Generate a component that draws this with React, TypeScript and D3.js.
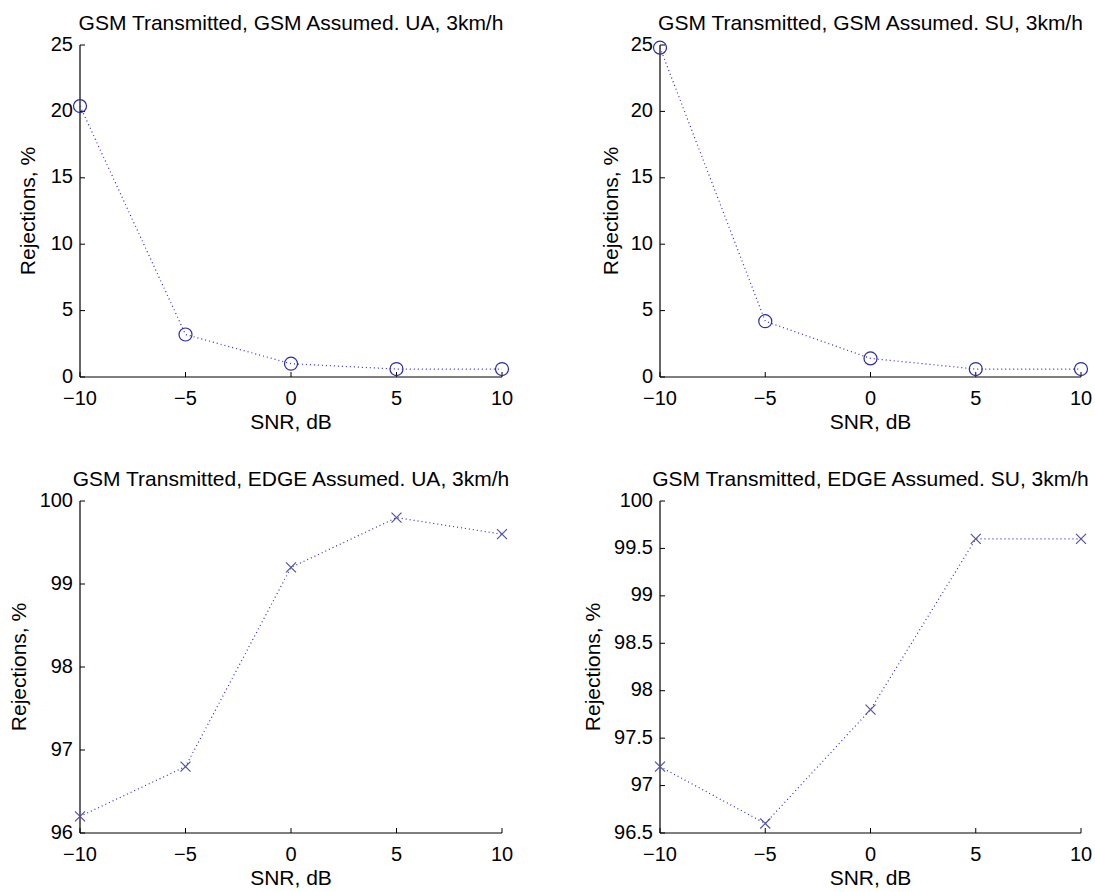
import React from "react";
import * as d3 from "d3";

const snr = [-10, -5, 0, 5, 10];
const xTicks = [-10, -5, 0, 5, 10];

const gsmUA = [20.4, 3.2, 1.0, 0.6, 0.6];
const gsmSU = [24.8, 4.2, 1.4, 0.6, 0.6];
const edgeUA = [96.2, 96.8, 99.2, 99.8, 99.6];
const edgeSU = [97.2, 96.6, 97.8, 99.6, 99.6];

const yTicksGsm = [0, 5, 10, 15, 20, 25];
const yTicksEdgeUA = [96, 97, 98, 99, 100];
const yTicksEdgeSU = [96.5, 97, 97.5, 98, 98.5, 99, 99.5, 100];

const titles = [
  "GSM Transmitted, GSM Assumed. UA, 3km/h",
  "GSM Transmitted, GSM Assumed. SU, 3km/h",
  "GSM Transmitted, EDGE Assumed. UA, 3km/h",
  "GSM Transmitted, EDGE Assumed. SU, 3km/h",
];
const xLabel = "SNR, dB";
const yLabel = "Rejections, %";

const FONT = "'Liberation Sans', Arial, Helvetica, sans-serif";
const LINE_COLOR = "#2b2bd0";
const CIRCLE_COLOR = "#2a2aa8";
const CROSS_COLOR = "#5050a8";

type PanelProps = {
  title: string;
  values: number[];
  yDomain: [number, number];
  yTicks: number[];
  marker: "o" | "x";
  left: number;
  right: number;
  top: number;
  bottom: number;
  yLabelOffset: number;
};

const fmt = (v: number) => (v < 0 ? "\u2212" + Math.abs(v) : String(v));

function Panel(p: PanelProps) {
  const x = d3.scaleLinear().domain([-10, 10]).range([p.left, p.right]);
  const y = d3.scaleLinear().domain(p.yDomain).range([p.bottom, p.top]);
  const pts = snr.map((s, i) => [x(s), y(p.values[i])] as [number, number]);
  const line = d3.line()(pts) || "";
  const cx = (p.left + p.right) / 2;
  const cy = (p.top + p.bottom) / 2;
  return (
    <g fontFamily={FONT}>
      <text x={cx} y={p.top - 15} textAnchor="middle" fontSize={21} fill="#000">
        {p.title}
      </text>
      <line x1={p.left} x2={p.left} y1={p.top} y2={p.bottom} stroke="#000" strokeWidth={1.2} />
      <line x1={p.left} x2={p.right} y1={p.bottom} y2={p.bottom} stroke="#000" strokeWidth={1.2} />
      {p.yTicks.map((t) => (
        <g key={"y" + t}>
          <line x1={p.left} x2={p.left + 5} y1={y(t)} y2={y(t)} stroke="#000" strokeWidth={1} />
          <text x={p.left - 7} y={y(t)} dy="0.28em" textAnchor="end" fontSize={20} fill="#000">
            {String(t)}
          </text>
        </g>
      ))}
      {xTicks.map((t) => (
        <g key={"x" + t}>
          <line x1={x(t)} x2={x(t)} y1={p.bottom} y2={p.bottom - 5} stroke="#000" strokeWidth={1} />
          <text x={x(t)} y={p.bottom + 21} dy="0.35em" textAnchor="middle" fontSize={20} fill="#000">
            {fmt(t)}
          </text>
        </g>
      ))}
      <text x={cx} y={p.bottom + 45} dy="0.35em" textAnchor="middle" fontSize={21} fill="#000">
        {xLabel}
      </text>
      <text
        transform={`translate(${p.left - p.yLabelOffset},${cy}) rotate(-90)`}
        textAnchor="middle"
        dy="0.35em"
        fontSize={21}
        fill="#000"
      >
        {yLabel}
      </text>
      <path d={line} fill="none" stroke={LINE_COLOR} strokeWidth={1.2} strokeDasharray="1 3" />
      {pts.map(([px, py], i) =>
        p.marker === "o" ? (
          <circle key={i} cx={px} cy={py} r={6.5} fill="none" stroke={CIRCLE_COLOR} strokeWidth={1.2} />
        ) : (
          <path
            key={i}
            d={`M${px - 5},${py - 5}L${px + 5},${py + 5}M${px - 5},${py + 5}L${px + 5},${py - 5}`}
            stroke={CROSS_COLOR}
            strokeWidth={1.2}
          />
        )
      )}
    </g>
  );
}

export default function App() {
  return (
    <svg
      width={1095}
      height={892}
      style={{ position: "absolute", left: 0, top: 0, background: "#fff" }}
    >
      <rect width={1095} height={892} fill="#fff" />
      <Panel title={titles[0]} values={gsmUA} yDomain={[0, 25]} yTicks={yTicksGsm} marker="o"
        left={80} right={502} top={45} bottom={377} yLabelOffset={52} />
      <Panel title={titles[1]} values={gsmSU} yDomain={[0, 25]} yTicks={yTicksGsm} marker="o"
        left={660} right={1081} top={45} bottom={377} yLabelOffset={49} />
      <Panel title={titles[2]} values={edgeUA} yDomain={[96, 100]} yTicks={yTicksEdgeUA} marker="x"
        left={80} right={502} top={501} bottom={833} yLabelOffset={61} />
      <Panel title={titles[3]} values={edgeSU} yDomain={[96.5, 100]} yTicks={yTicksEdgeSU} marker="x"
        left={660} right={1081} top={501} bottom={833} yLabelOffset={67} />
    </svg>
  );
}
